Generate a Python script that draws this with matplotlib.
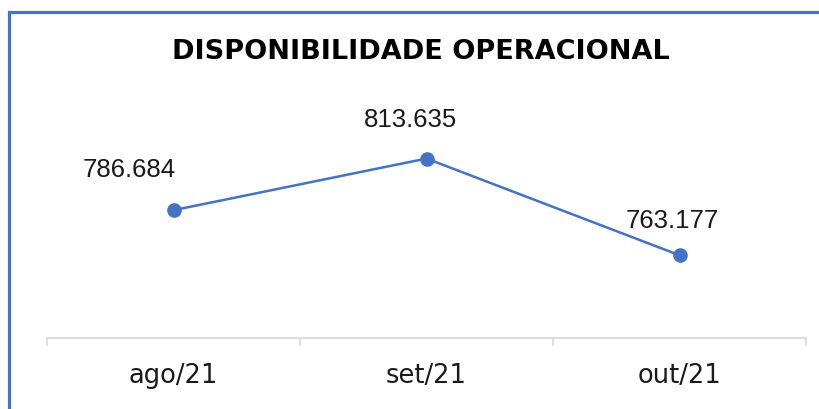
import matplotlib
matplotlib.use("Agg")
import matplotlib.pyplot as plt
from matplotlib.patches import Rectangle

# data
months = ["ago/21", "set/21", "out/21"]
values = [786.684, 813.635, 763.177]
labels = ["786.684", "813.635", "763.177"]
# label offsets in points (dx, dy) relative to each marker
offsets = [(-32, 29), (-11.5, 27.5), (-5, 25)]

blue = "#4472C4"
grey = "#d9d9d9"
plt.rcParams['font.family'] = ['Liberation Sans', 'DejaVu Sans']

fig = plt.figure(figsize=(8.19, 4.09), dpi=100)
ax = fig.add_axes([47 / 819, 1 - 338 / 409, (806 - 47) / 819, (338 - 108) / 409])

x = list(range(len(months)))
ax.plot(x, values, color=blue, linewidth=1.8, marker='o', markersize=9.5,
        markerfacecolor=blue, markeredgecolor=blue, zorder=3)

for xi, v, lab, (dx, dy) in zip(x, values, labels, offsets):
    ax.annotate(lab, (xi, v), xytext=(dx, dy), textcoords='offset points',
                ha='center', va='center', fontsize=18.5, color='#1a1a1a')

ax.set_xlim(-0.5, 2.5)
ax.set_ylim(720, 840)
ax.set_yticks([])
ax.set_xticks(x)
ax.set_xticklabels(months, fontsize=18.5, color='#1a1a1a', family='DejaVu Sans')
ax.tick_params(axis='x', which='major', length=0, pad=18)
ax.set_xticks([-0.5, 0.5, 1.5, 2.5], minor=True)
ax.tick_params(axis='x', which='minor', length=5.5, width=1.2, color=grey)
for s in ['top', 'left', 'right']:
    ax.spines[s].set_visible(False)
ax.spines['bottom'].set_color(grey)
ax.spines['bottom'].set_linewidth(1.2)

fig.text(421 / 819, 1 - 52 / 409, "DISPONIBILIDADE OPERACIONAL", ha='center',
         va='center', fontsize=19.5, fontweight='bold', color='black',
         family='DejaVu Sans')

# blue frame of the chart box (left and top edges visible)
fig.add_artist(Rectangle((9 / 819, -0.2), 1.2, 0.2 + (409 - 11.5) / 409,
                         transform=fig.transFigure, fill=False,
                         edgecolor=blue, linewidth=2.3, clip_on=False))

fig.savefig("out.png", dpi=100)
